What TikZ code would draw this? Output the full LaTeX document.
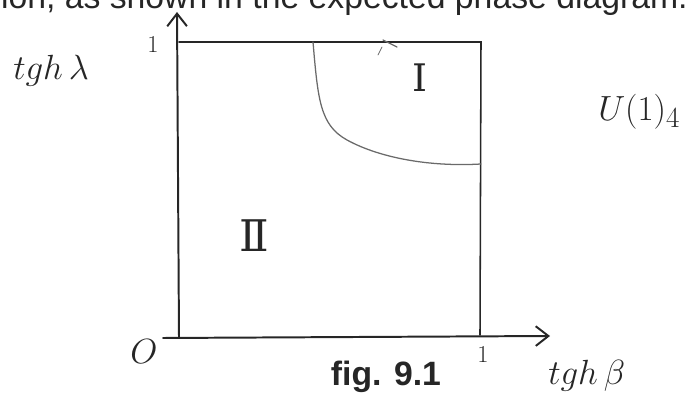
\documentclass[tikz,border=0pt]{standalone}
\usepackage{fontspec}
\usepackage{amsmath}
\newfontfamily\printfont{Liberation Sans}
\newfontfamily\numfont{DejaVu Serif}
\usetikzlibrary{arrows.meta, positioning}
\definecolor{mInk}{HTML}{262626}
\definecolor{mPencil}{HTML}{6A6A6A}

\begin{document}
\begin{tikzpicture}[x=0.025cm, y=-0.025cm,
    ink/.style={mInk, line width=1.4pt, line cap=round},
    pencil/.style={mPencil, line width=0.9pt, line cap=round},
    hand/.style={mInk, font=\fontsize{26}{30}\selectfont, inner sep=0pt},
    chevron/.style={-{Straight Barb[length=9pt, width=14pt]}}]
  \useasboundingbox (0,0) rectangle (692,412);
  % running text cut by the page edge
  \node[anchor=base east, inner sep=0pt, mInk, font=\printfont\fontsize{24}{28}\selectfont]
    (runtext) at (688,9) {sion, as shown in the expected phase diagram.};
  % axes and box
  \coordinate (origin) at (179,338);
  \coordinate (ytip) at (177,12);
  \coordinate (xstart) at (163,338);
  \coordinate (xtip) at (550,336);
  \coordinate (ltop) at (179,42);
  \coordinate (rtop) at (481,42);
  \coordinate (rbot) at (480,335);
  \draw[ink, chevron] (origin) -- (ytip);
  \draw[ink, chevron] (xstart) -- (xtip);
  \draw[ink, line width=1.1pt] (ltop) -- (rtop) -- (rbot);
  % phase boundary
  \coordinate (bstart) at (313,42);
  \coordinate (bend) at (481,164);
  \draw[pencil] (bstart) .. controls (318,100) and (320,125) .. (347,140)
    .. controls (380,158) and (430,167) .. (bend);
  % small mark on the top edge
  \coordinate (tick) at (383,40);
  \draw[pencil] (tick) -- ++(14,7);
  \draw[pencil, line width=0.6pt] (tick) ++(-1,7) -- ++(-4,8);
  % labels
  \node[hand, font=\fontsize{18}{20}\selectfont] (lone) at (153,45) {$1$};
  \node[hand, anchor=base west] (ylab) at (13,80) {$tgh\,\lambda$};
  \node[hand, font=\numfont\fontsize{27}{30}\selectfont] (phaseI) at (420,78) {Ⅰ};
  \node[hand, font=\numfont\fontsize{31}{34}\selectfont] (phaseII) at (254,236) {Ⅱ};
  \node[hand, anchor=base west, font=\fontsize{28}{32}\selectfont] (ulab) at (598,121) {$U(1)_4$};
  \node[hand] (olab) at (144,352) {$O$};
  \node[hand, font=\fontsize{17}{20}\selectfont] (xone) at (483,355) {$1$};
  \node[hand, anchor=base west] (xlab) at (548,385) {$tgh\,\beta$};
  \node[mInk, font=\printfont\bfseries\fontsize{24}{28}\selectfont] (caption) at (386,377) {fig. 9.1};
\end{tikzpicture}
\end{document}
